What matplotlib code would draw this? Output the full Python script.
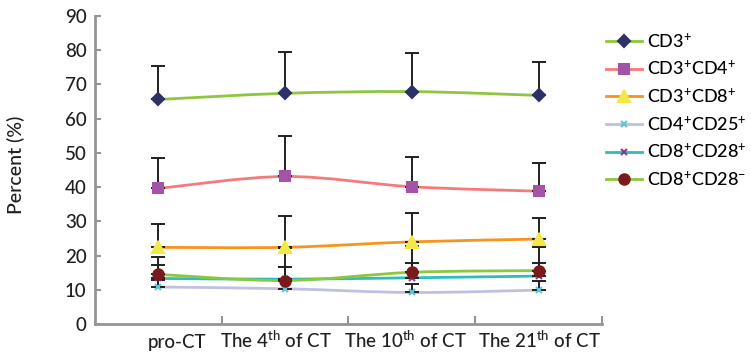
import numpy as np
import matplotlib
matplotlib.use('Agg')
import matplotlib.pyplot as plt
from matplotlib.path import Path
from matplotlib.patches import PathPatch
from matplotlib.lines import Line2D

plt.rcParams['font.family'] = ['Lato', 'DejaVu Sans']
plt.rcParams['font.weight'] = 500
plt.rcParams['mathtext.fontset'] = 'custom'
plt.rcParams['mathtext.rm'] = 'Lato:medium'
plt.rcParams['mathtext.it'] = 'Lato:medium'

categories = ['pro-CT', 'The 4$^{\\rm th}$ of CT', 'The 10$^{\\rm th}$ of CT', 'The 21$^{\\rm th}$ of CT']

labels = ['CD3$^{+}$', 'CD3$^{+}$CD4$^{+}$', 'CD3$^{+}$CD8$^{+}$',
          'CD4$^{+}$CD25$^{+}$', 'CD8$^{+}$CD28$^{+}$', 'CD8$^{+}$CD28$^{-}$']

cd3 = [65.6, 67.4, 67.9, 66.8]
cd3_err = [9.8, 12.1, 11.3, 9.8]
cd3cd4 = [39.6, 43.1, 40.1, 38.8]
cd3cd4_err = [8.9, 11.8, 8.7, 8.2]
cd3cd8 = [22.4, 22.4, 24.0, 24.8]
cd3cd8_err = [6.8, 9.1, 8.3, 6.1]
cd4cd25 = [10.8, 10.3, 9.2, 9.9]
cd4cd25_err = [2.0, 2.5, 2.5, 2.8]
cd8cd28p = [13.3, 13.1, 13.5, 14.0]
cd8cd28p_err = [3.8, 9.0, 9.4, 8.4]
cd8cd28n = [14.5, 12.7, 15.1, 15.6]
cd8cd28n_err = [5.2, 3.9, 2.6, 2.1]

series = [cd3, cd3cd4, cd3cd8, cd4cd25, cd8cd28p, cd8cd28n]
errors = [cd3_err, cd3cd4_err, cd3cd8_err, cd4cd25_err, cd8cd28p_err, cd8cd28n_err]
line_colors = ['#8dc63f', '#f47b7b', '#f7941d', '#c0c1e2', '#2ebdbd', '#8dc63f']
marker_colors = ['#2e3168', '#a354a6', '#f2e84a', '#5bc8d8', '#7e3f98', '#7b1a1a']
markers = ['D', 's', '^', 'x', 'x', 'o']
msizes = [6, 7, 8, 4.5, 4.5, 7.5]

# where the category labels end (right aligned), in x data units
label_right = [0.88, 1.87, 2.93, 3.99]


def smooth_path(xs, ys):
    # Excel-like smoothed line: Catmull-Rom segments as cubic Bezier curves
    pts = np.column_stack([xs, ys]).astype(float)
    verts = [pts[0]]
    codes = [Path.MOVETO]
    n = len(pts)
    for i in range(n - 1):
        p0 = pts[max(i - 1, 0)]
        p1 = pts[i]
        p2 = pts[i + 1]
        p3 = pts[min(i + 2, n - 1)]
        c1 = p1 + (p2 - p0) / 6.0
        c2 = p2 - (p3 - p1) / 6.0
        verts += [c1, c2, p2]
        codes += [Path.CURVE4] * 3
    return Path(verts, codes)


fig = plt.figure(figsize=(7.51, 3.53), dpi=100)
ax = fig.add_axes([0.1265, 0.0822, 0.675, 0.8725])

x = np.arange(len(categories)) + 0.5

for vals, col in zip(series, line_colors):
    ax.add_patch(PathPatch(smooth_path(x, vals), facecolor='none',
                           edgecolor=col, lw=2.0, zorder=2))

for vals, err in zip(series, errors):
    ax.errorbar(x, vals, yerr=[np.zeros(len(err)), err], fmt='none',
                ecolor='#231f20', elinewidth=1.4, capsize=5, capthick=1.4, zorder=3)

for vals, m, mc, ms in zip(series, markers, marker_colors, msizes):
    ax.plot(x, vals, ls='none', marker=m, color=mc, ms=ms, mew=1.5, zorder=4)

ax.set_xlim(0, 4)
ax.set_ylim(0, 90)
ax.set_yticks(np.arange(0, 91, 10))
ax.set_xticks([1, 2, 3, 4])
ax.set_xticklabels([])
ax.tick_params(axis='x', direction='in', length=6, width=1.5, color='#939598')
ax.tick_params(axis='y', direction='in', length=4, width=1.5, color='#939598',
               labelsize=13.5, pad=6, labelcolor='#231f20')

for lx, lab in zip(label_right, categories):
    ax.text(lx, -0.077, lab, transform=ax.get_xaxis_transform(), ha='right', va='baseline',
            fontsize=13.5, color='#231f20')

for s in ['top', 'right']:
    ax.spines[s].set_visible(False)
for s in ['left', 'bottom']:
    ax.spines[s].set_color('#939598')
    ax.spines[s].set_linewidth(2)

fig.text(16 / 751, 1 - 165 / 353, 'Percent (%)', rotation=90, ha='center', va='center',
         fontsize=14, color='#231f20')

handles = [Line2D([], [], color=lc, lw=2.0, marker=m, mfc=mc, mec=mc, ms=ms, mew=1.5)
           for lc, m, mc, ms in zip(line_colors, markers, marker_colors, msizes)]
fig.legend(handles, labels, loc='upper left', bbox_to_anchor=(0.797, 0.93),
           frameon=False, fontsize=13, handlelength=2.0, handletextpad=0.3,
           labelspacing=0.5, borderaxespad=0)

fig.savefig('out.png', dpi=100)
